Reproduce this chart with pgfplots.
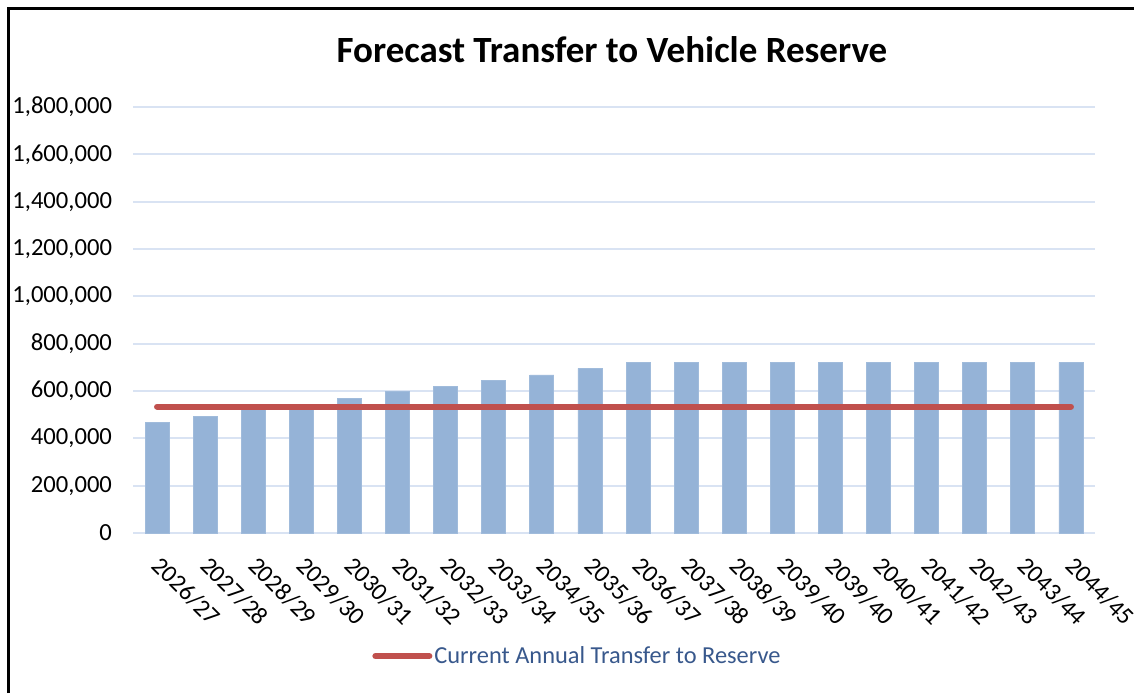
\documentclass[border=0pt]{standalone}
\usepackage{pgfplots}
\pgfplotsset{compat=1.18}
\usepackage{fontspec}
\setmainfont{Carlito}

\definecolor{barblue}{RGB}{149,179,215}
\definecolor{linered}{RGB}{192,80,77}
\definecolor{gridblue}{RGB}{217,227,243}
\definecolor{legtext}{RGB}{56,88,140}

\begin{document}
\begin{tikzpicture}
% page = 1134 x 693 px, 1 px = 0.5pt
\path[use as bounding box] (0,0) rectangle (567pt,346.5pt);
\draw[line width=1.5pt] (4pt,0) -- (4pt,342.5pt) -- (567pt,342.5pt);
\node[font=\fontsize{18.5}{22}\selectfont\bfseries] at (306pt,321.5pt) {Forecast Transfer to Vehicle Reserve};
\begin{axis}[
    at={(66.5pt,80pt)}, anchor=south west,
    width=481pt, height=213pt, scale only axis,
    xmin=-0.5, xmax=19.5,
    ymin=0, ymax=1800000,
    ytick={0,200000,...,1800000},
    xtick={0,...,19},
    xticklabels={2026/27,2027/28,2028/29,2029/30,2030/31,2031/32,2032/33,2033/34,2034/35,2035/36,2036/37,2037/38,2038/39,2039/40,2039/40,2040/41,2041/42,2042/43,2043/44,2044/45},
    xticklabel style={xshift=3pt, yshift=-6pt, rotate=-45, anchor=north west, font=\fontsize{12.3}{14}\selectfont},
    yticklabel style={font=\fontsize{12.3}{14}\selectfont, xshift=-7pt},
    /pgf/number format/.cd, fixed, 1000 sep={,}, assume math mode=true,
    /pgfplots/.cd,
    scaled y ticks=false,
    ymajorgrids,
    major grid style={gridblue, line width=1pt},
    axis line style={draw=none},
    separate axis lines,
    axis x line*=bottom,
    x axis line style={draw=gridblue, line width=1pt, -},
    axis y line*=left,
    y axis line style={draw=none},
    major tick length=0pt,
    legend style={at={(0.462,-0.289)}, anchor=center, draw=none, fill=none,
        font=\fontsize{12.2}{14}\selectfont\color{legtext},
        nodes={inner xsep=1pt}},
    legend image code/.code={\draw[#1, line cap=round] (0pt,0pt) -- (27pt,0pt);},
    legend cell align=left,
]
\addplot[ybar, bar width=0.5, fill=barblue, draw=barblue!90!white, forget plot] coordinates {
    (0,466000) (1,494000) (2,528000) (3,535000) (4,569000)
    (5,597000) (6,618000) (7,645000) (8,668000) (9,696000)
    (10,721000) (11,721000) (12,721000) (13,721000) (14,721000)
    (15,721000) (16,721000) (17,721000) (18,721000) (19,721000)
};
\addplot[linered, line width=3pt, line cap=round, mark=none] coordinates {
    (0,534000) (19,534000)
};
\addlegendentry{Current Annual Transfer to Reserve}
\end{axis}
\end{tikzpicture}
\end{document}
